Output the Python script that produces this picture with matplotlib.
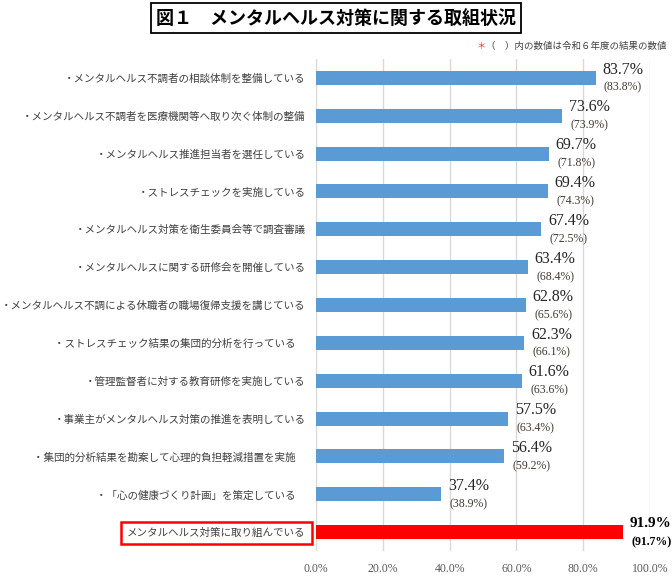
import matplotlib
matplotlib.use("Agg")
import matplotlib.pyplot as plt
from matplotlib.ticker import FuncFormatter

plt.rcParams['font.family'] = ['Noto Sans CJK JP', 'DejaVu Sans']

# data (top to bottom as shown in the chart)
categories = [
    "・メンタルヘルス不調者の相談体制を整備している",
    "・メンタルヘルス不調者を医療機関等へ取り次ぐ体制の整備",
    "・メンタルヘルス推進担当者を選任している",
    "・ストレスチェックを実施している",
    "・メンタルヘルス対策を衛生委員会等で調査審議",
    "・メンタルヘルスに関する研修会を開催している",
    "・メンタルヘルス不調による休職者の職場復帰支援を講じている",
    "・ストレスチェック結果の集団的分析を行っている　",
    "・管理監督者に対する教育研修を実施している",
    "・事業主がメンタルヘルス対策の推進を表明している",
    "・集団的分析結果を勘案して心理的負担軽減措置を実施　",
    "・「心の健康づくり計画」を策定している　",
    "メンタルヘルス対策に取り組んでいる",
]
values_r7 = [83.7, 73.6, 69.7, 69.4, 67.4, 63.4, 62.8, 62.3, 61.6, 57.5, 56.4, 37.4, 91.9]
values_r6 = [83.8, 73.9, 71.8, 74.3, 72.5, 68.4, 65.6, 66.1, 63.6, 63.4, 59.2, 38.9, 91.7]
x_ticks = [0, 20, 40, 60, 80, 100]

title = "図１　メンタルヘルス対策に関する取組状況"
note = "（　）内の数値は令和６年度の結果の数値"

blue = "#5B9BD5"
red = "#FF0000"
serif = ["Liberation Serif", "DejaVu Serif"]

fig = plt.figure(figsize=(6.72, 5.84), dpi=100)
ax = fig.add_axes([316 / 672, 1 - 551 / 584, 334 / 672, 492 / 584])

ypos = list(range(len(categories)))
colors = [blue] * (len(categories) - 1) + [red]
ax.barh(ypos, values_r7, height=0.37, color=colors, zorder=3)

# value labels
for i, (v, p) in enumerate(zip(values_r7, values_r6)):
    last = i == len(categories) - 1
    ax.annotate(f"{v:.1f}%", xy=(v, i - 0.22), xytext=(5, 0), textcoords="offset points",
                ha="left", va="center", fontsize=11 if last else 11.5, family=serif,
                color="black" if last else "#262626",
                fontweight="bold" if last else "normal")
    ax.annotate(f"({p:.1f}%)", xy=(v, i + 0.26), xytext=(6, 0), textcoords="offset points",
                ha="left", va="center", fontsize=8.5, family=serif,
                color="black" if last else "#403830",
                fontweight="bold" if last else "normal")

ax.set_xlim(0, 100)
ax.set_ylim(len(categories) - 0.5, -0.5)
ax.set_xticks(x_ticks)
ax.xaxis.set_major_formatter(FuncFormatter(lambda x, pos: f"{x:.1f}%"))
ax.set_yticks(ypos)
ax.set_yticklabels(categories, fontsize=7.6, color="#404040")
ax.tick_params(axis="x", length=0, pad=9, labelsize=8.5, labelcolor="#595959")
ax.tick_params(axis="y", length=0, pad=7.5)
for lab in ax.get_xticklabels():
    lab.set_family(serif)
ax.grid(axis="x", color="#d9d9d9", linewidth=1, zorder=0)
for s in ax.spines.values():
    s.set_visible(False)

# red frame around the last label
lastlab = ax.get_yticklabels()[-1]
lastlab.set_bbox(dict(boxstyle="square,pad=0.6", facecolor="none", edgecolor=red, linewidth=1.8))

# title and note
fig.text(0.5, 1 - 18 / 584, title, ha="center", va="center", fontsize=13, fontweight="bold",
         bbox=dict(boxstyle="square,pad=0.3", facecolor="white", edgecolor="black", linewidth=1.3))
t = fig.text(667 / 672, 1 - 46 / 584, note, ha="right", va="center", fontsize=6.8, color="#404040")
ax.annotate("＊", xy=(0, 0.5), xycoords=t, ha="right", va="center", fontsize=6.8, color="#e04030")

fig.savefig("out.png", dpi=100)
